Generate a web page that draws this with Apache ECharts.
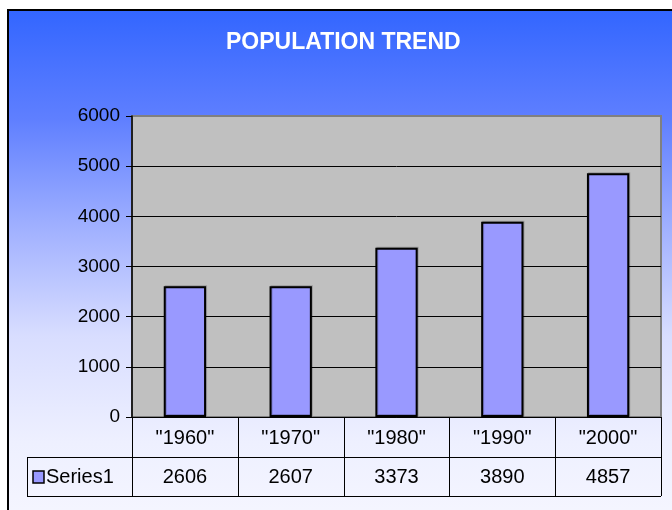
<!DOCTYPE html>
<html>
<head>
<meta charset="utf-8">
<script src="https://cdn.jsdelivr.net/npm/echarts@6/dist/echarts.min.js"></script>
<style>
  html, body { margin: 0; padding: 0; background: #fff; overflow: hidden; }
  #box {
    position: absolute; left: 7px; top: 9px; width: 700px; height: 540px;
    border: 2px solid #000;
    background: linear-gradient(to bottom, #3366ff 0%, #5f7fff 20%, #a0b0ff 40%, #d8ddff 60%, #eef0ff 80%, #f8f8ff 100%);
  }
  #chart { position: absolute; left: 0; top: 0; width: 672px; height: 510px; }
</style>
</head>
<body>
<div id="box"></div>
<div id="chart"></div>
<script>
// values
const years = ['"1960"', '"1970"', '"1980"', '"1990"', '"2000"'];
const population = [2606, 2607, 3373, 3890, 4857];
const seriesName = 'Series1';
const yTicks = [0, 1000, 2000, 3000, 4000, 5000, 6000];

let dom = document.getElementById('chart');
let myChart = echarts.init(dom, null, { renderer: 'canvas' });
const font = 'Liberation Sans, Arial, sans-serif';

let options = {
    animation: false,
    backgroundColor: 'transparent',
    textStyle: { fontFamily: font },
    grid: {
        left: 132, top: 116, width: 529, height: 301,
        show: true,
        backgroundColor: '#c0c0c0',
        borderColor: '#808080',
        borderWidth: 2
    },
    xAxis: {
        type: 'category',
        data: years,
        axisLine: { show: true, lineStyle: { color: '#000', width: 1 } },
        axisTick: { show: false },
        axisLabel: { show: false }
    },
    yAxis: {
        type: 'value',
        min: yTicks[0],
        max: yTicks[yTicks.length - 1],
        interval: 1000,
        axisLine: { show: true, lineStyle: { color: '#000', width: 1.5 } },
        axisTick: { show: true, length: 6, lineStyle: { color: '#000' } },
        axisLabel: { color: '#000', fontSize: 19, margin: 12, fontFamily: font, formatter: v => String(v) },
        splitLine: {
            show: true,
            lineStyle: { color: ['#000', '#000', '#000', '#000', '#000', '#000', '#808080'], width: 1 }
        }
    },
    series: [{
        name: seriesName,
        type: 'bar',
        data: population,
        barWidth: '40%',
        itemStyle: {
            color: '#9999ff',
            borderColor: '#000',
            borderWidth: 2,
            shadowColor: 'rgba(0,0,0,0.2)',
            shadowOffsetX: 1,
            shadowOffsetY: -1
        }
    }],
    graphic: [{
        type: 'text',
        left: 226, top: 31,
        style: { text: 'POPULATION TREND', fill: '#fff', font: 'bold 23px ' + font }
    }]
};
myChart.setOption(options);

// data table under the plot, laid out from the category axis
function drawTable() {
    const c0 = myChart.convertToPixel({ xAxisIndex: 0 }, years[0]);
    const c1 = myChart.convertToPixel({ xAxisIndex: 0 }, years[1]);
    const band = c1 - c0;
    const y0 = myChart.convertToPixel({ yAxisIndex: 0 }, 0);
    const xLeft = c0 - band / 2;
    const xRight = xLeft + band * years.length;
    const legendLeft = 27;
    const y1 = y0 + 40, y2 = y0 + 79;
    const line = { stroke: '#000', lineWidth: 1 };
    const els = [];
    for (let i = 0; i <= years.length; i++) {
        const x = Math.round(xLeft + band * i) + 0.5;
        els.push({ type: 'line', shape: { x1: x, y1: y0, x2: x, y2: y2 }, style: line });
    }
    els.push({ type: 'line', shape: { x1: legendLeft + 0.5, y1: y1, x2: legendLeft + 0.5, y2: y2 }, style: line });
    els.push({ type: 'line', shape: { x1: legendLeft, y1: y1 + 0.5, x2: xRight, y2: y1 + 0.5 }, style: line });
    els.push({ type: 'line', shape: { x1: legendLeft, y1: y2 + 0.5, x2: xRight, y2: y2 + 0.5 }, style: line });
    years.forEach((yr, i) => {
        const cx = myChart.convertToPixel({ xAxisIndex: 0 }, yr);
        els.push({ type: 'text', x: cx, y: (y0 + y1) / 2 + 1,
            style: { text: yr, fill: '#000', font: '20px ' + font, align: 'center', verticalAlign: 'middle' } });
        els.push({ type: 'text', x: cx, y: (y1 + y2) / 2 + 1,
            style: { text: String(population[i]), fill: '#000', font: '20px ' + font, align: 'center', verticalAlign: 'middle' } });
    });
    els.push({ type: 'rect', shape: { x: 33, y: y1 + 14, width: 11, height: 12 },
        style: { fill: '#9999ff', stroke: '#000', lineWidth: 1.5 } });
    els.push({ type: 'text', x: 46, y: (y1 + y2) / 2 + 1,
        style: { text: seriesName, fill: '#000', font: '20px ' + font, align: 'left', verticalAlign: 'middle' } });
    myChart.setOption({ graphic: els.concat(options.graphic) }, { replaceMerge: ['graphic'] });
}
drawTable();
</script>
</body>
</html>
